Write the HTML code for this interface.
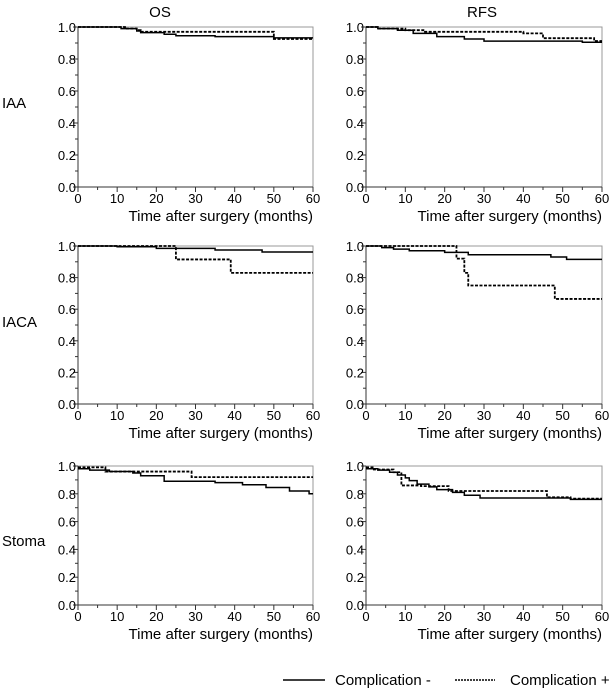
<!DOCTYPE html>
<html><head><meta charset="utf-8"><style>
html,body{margin:0;padding:0;background:#fff;}
svg{display:block;font-family:"Liberation Sans",Arial,sans-serif;}
</style></head><body>
<svg id="c" width="614" height="694" viewBox="0 0 614 694" xmlns="http://www.w3.org/2000/svg">
<text x="160" y="17" text-anchor="middle" font-size="15">OS</text>
<text x="482" y="17" text-anchor="middle" font-size="15">RFS</text>
<text x="2" y="108" font-size="15">IAA</text>
<text x="2" y="327" font-size="15">IACA</text>
<text x="2" y="546" font-size="15">Stoma</text>
<g>
<line x1="283" y1="680" x2="325" y2="680" stroke="#000" stroke-width="1.6"/>
<text x="335" y="685" font-size="15">Complication -</text>
<line x1="455" y1="680" x2="495" y2="680" stroke="#000" stroke-width="1.4" stroke-dasharray="2,1"/>
<text x="510" y="685" font-size="15">Complication +</text>
</g>
</svg>
<script>
const xTicks=[0,10,20,30,40,50,60];
const yTicks=[0.0,0.2,0.4,0.6,0.8,1.0];
const osIaaNoT=[0,11,15,16,22,25,35,50,60];
const osIaaNoS=[1,0.99,0.975,0.965,0.955,0.945,0.94,0.932,0.932];
const osIaaYesT=[0,12,15,16,50,60];
const osIaaYesS=[1,0.99,0.98,0.97,0.925,0.925];
const rfsIaaNoT=[0,3,8,12,18,25,30,55,60];
const rfsIaaNoS=[1,0.99,0.98,0.96,0.94,0.925,0.912,0.905,0.905];
const rfsIaaYesT=[0,3,10,15,40,45,58,60];
const rfsIaaYesS=[1,0.99,0.98,0.97,0.96,0.93,0.912,0.912];
const osIacaNoT=[0,10,20,35,47,60];
const osIacaNoS=[1,0.995,0.985,0.975,0.962,0.962];
const osIacaYesT=[0,25,39,60];
const osIacaYesS=[1,0.915,0.83,0.83];
const rfsIacaNoT=[0,4,7,11,20,26,47,51,60];
const rfsIacaNoS=[1,0.99,0.98,0.97,0.96,0.945,0.93,0.915,0.915];
const rfsIacaYesT=[0,23,25,26,48,60];
const rfsIacaYesS=[1,0.92,0.83,0.75,0.665,0.665];
const osStomaNoT=[0,3,8,14,16,22,35,42,48,54,59,60];
const osStomaNoS=[0.98,0.97,0.96,0.95,0.93,0.89,0.88,0.865,0.845,0.82,0.80,0.80];
const osStomaYesT=[0,7,29,60];
const osStomaYesS=[0.99,0.96,0.92,0.92];
const rfsStomaNoT=[0,3,6,8,10,11,13,16,18,22,25,29,52,60];
const rfsStomaNoS=[0.98,0.97,0.955,0.935,0.915,0.895,0.87,0.85,0.83,0.81,0.79,0.77,0.76,0.76];
const rfsStomaYesT=[0,2,7,9,14,21,46,52,60];
const rfsStomaYesS=[0.99,0.975,0.955,0.86,0.855,0.82,0.775,0.765,0.765];

const svg=document.getElementById('c');
const NS='http://www.w3.org/2000/svg';
function mk(tag,attrs,parent){const e=document.createElementNS(NS,tag);for(const k in attrs)e.setAttribute(k,attrs[k]);parent.appendChild(e);return e;}
const panels=[
 {n:'os-iaa',x0:78,x1:313,y0:187,y1:27,a:[osIaaNoT,osIaaNoS],b:[osIaaYesT,osIaaYesS]},
 {n:'rfs-iaa',x0:366,x1:602,y0:187,y1:27,a:[rfsIaaNoT,rfsIaaNoS],b:[rfsIaaYesT,rfsIaaYesS]},
 {n:'os-iaca',x0:78,x1:313,y0:404,y1:246,a:[osIacaNoT,osIacaNoS],b:[osIacaYesT,osIacaYesS]},
 {n:'rfs-iaca',x0:366,x1:602,y0:404,y1:246,a:[rfsIacaNoT,rfsIacaNoS],b:[rfsIacaYesT,rfsIacaYesS]},
 {n:'os-stoma',x0:78,x1:313,y0:605,y1:466,a:[osStomaNoT,osStomaNoS],b:[osStomaYesT,osStomaYesS]},
 {n:'rfs-stoma',x0:366,x1:602,y0:605,y1:466,a:[rfsStomaNoT,rfsStomaNoS],b:[rfsStomaYesT,rfsStomaYesS]}
];
panels.forEach(p=>{
 const g=mk('g',{},svg);
 
 
 const X=t=>p.x0+(p.x1-p.x0)*t/60, Y=v=>p.y0+(p.y1-p.y0)*v;
 mk('rect',{x:p.x0,y:p.y1,width:p.x1-p.x0,height:p.y0-p.y1,fill:'none',stroke:'#999','stroke-width':1},g);
 mk('line',{x1:p.x0,y1:p.y1,x2:p.x0,y2:p.y0,stroke:'#333','stroke-width':1},g);
 mk('line',{x1:p.x0,y1:p.y0,x2:p.x1,y2:p.y0,stroke:'#333','stroke-width':1},g);
 for(let t=0;t<=60;t+=5){mk('line',{x1:X(t),y1:p.y0,x2:X(t),y2:p.y0+(t%10?3:5),stroke:'#333'},g);}
 for(let v=0;v<=10;v++){mk('line',{x1:p.x0-(v%2?3:5),y1:Y(v/10),x2:p.x0,y2:Y(v/10),stroke:'#333'},g);}
 xTicks.forEach(t=>{const e=mk('text',{x:X(t),y:p.y0+16,'text-anchor':'middle','font-size':13},g);e.textContent=t;
  
  });
 yTicks.forEach(v=>{const e=mk('text',{x:p.x0-2,y:Y(v)+5,'text-anchor':'end','font-size':13},g);e.textContent=v.toFixed(1);
  
  });
 const tt=mk('text',{x:p.x1,y:p.y0+34,'text-anchor':'end','font-size':15},g);tt.textContent='Time after surgery (months)';
 
 
 function step(T,S){let d='M'+X(T[0])+','+Y(S[0]);for(let i=1;i<T.length;i++){d+=' H'+X(T[i])+' V'+Y(S[i]);}return d;}
 const b=mk('path',{d:step(p.b[0],p.b[1]),fill:'none',stroke:'#000','stroke-width':1.8,'stroke-dasharray':'3,1.5'},g);
 
 
 const a=mk('path',{d:step(p.a[0],p.a[1]),fill:'none',stroke:'#000','stroke-width':1.5},g);
 
 
});
</script>
</body></html>
